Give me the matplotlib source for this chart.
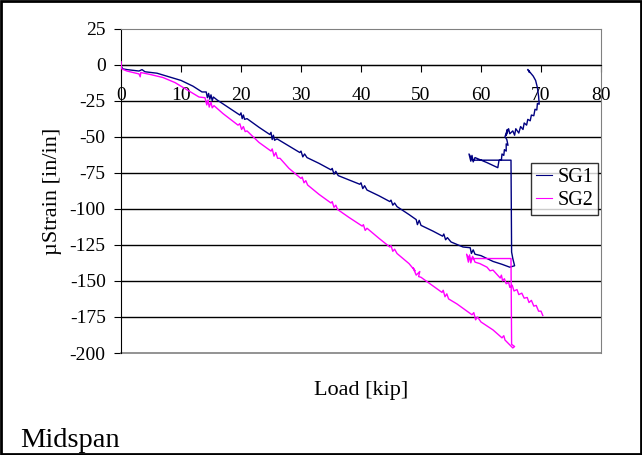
import numpy as np
import matplotlib
matplotlib.use("Agg")
from matplotlib import pyplot as plt
from matplotlib.patches import Rectangle

# SG1 gauge, load [kip] vs strain
sg1_load = [0, 0.3, 1, 3, 3.5, 4, 6, 8, 10, 12, 13.5,
            14.2, 14.4, 14.6, 14.8, 15, 15.2, 15.4, 16,
            18, 19.8, 20, 20.2, 20.4, 20.6, 21, 23, 24.8, 25, 25.2, 25.4, 25.6, 26,
            28, 29.8, 30, 30.3, 30.6, 31, 33, 35, 35.2, 35.5, 35.8, 36.2,
            38, 39.8, 40, 40.3, 40.6, 41, 43, 44.8, 45, 45.3, 45.6, 46,
            48, 49.2, 49.4, 49.7, 50, 52, 53.6, 53.8, 54.1, 54.4, 55,
            57, 58.2, 58.4, 58.7, 59, 60, 62, 63.5, 64.8, 65.6, 65.3, 65.1,
            65, 63, 58.6,
            58.0, 58.3, 58.5, 58.7, 59, 61, 62.8, 63.0,
            63.4, 63.5, 63.8, 63.9, 64.2, 64.2, 64.5, 64.3,
            64.0, 64.4, 64.2, 64.6, 64.8, 65.3, 65.6, 65.8, 66.3, 66.6, 67, 67.2,
            67.6, 67.8, 68.2, 68.4, 68.8, 69, 69.3, 69.4, 69.7, 69.6, 69.4, 69.1,
            68.7, 68.3, 67.9, 68.1, 67.8]
sg1_strain = [-1, -3, -3.5, -4.5, -3.5, -5, -6, -8.5, -11, -15, -19,
              -19, -23, -20, -24, -21, -25, -22.5, -24.5,
              -30, -35, -33.5, -37.5, -35, -38, -37.5, -43.5, -48.5, -47, -52, -49, -52.5, -51.5,
              -56.5, -61, -60, -64, -62, -64.5, -68.5, -73, -72, -76, -74, -77,
              -80, -83, -82, -86, -84, -87, -91, -95, -94, -97.5, -96, -98.5,
              -104, -107.5, -111, -108, -111.5, -115.5, -119, -117.5, -121.5, -120, -123,
              -126.5, -127, -131, -128.5, -131.5, -132.5, -136.5, -138.5, -140.5, -139.5, -134.5, -130,
              -66.3, -66.3, -66.3,
              -62, -67, -63, -67.5, -64.5, -68, -71.5, -66.5,
              -66, -62, -63, -59, -60, -55, -56, -52,
              -50, -45, -49, -44.5, -48, -46, -49, -44.5, -47.5, -43, -45, -40.5,
              -42, -38, -39, -35, -35.5, -31, -31.5, -27, -27.5, -22, -16, -11,
              -8, -6, -4, -5.5, -3.5]

# SG2 gauge
sg2_load = [0, 0.1, 1, 2, 3, 3.2, 3.3, 5, 7, 9, 11, 13,
            14, 14.3, 14.5, 14.7, 15, 15.2, 15.5,
            17, 19.5, 19.8, 20.1, 20.4, 20.7, 21, 23, 25, 25.2, 25.5, 25.8, 26.1, 26.5,
            28, 30, 30.2, 30.5, 30.8, 31.1, 33, 35, 35.2, 35.5, 35.8, 36.1,
            38, 40.2, 40.4, 40.7, 41, 43, 44.8, 45, 45.3, 45.6, 46,
            48, 49, 48.7, 49.2, 49.8, 49.6, 50, 52, 53.5, 53.7, 54, 54.3, 54.6,
            56, 58.5, 58.8, 59.1, 59.4, 60, 62, 63.5, 63.8, 64, 65.3, 65.6, 65.1,
            65, 60, 58,
            57.6, 57.9, 58.1, 58.3, 58.6, 59, 59.8, 61, 61.5, 62, 63.2, 63.4, 63.6,
            63.9, 64.2, 64.6, 64.8, 65.2, 65.5, 66, 66.3, 66.8, 67.2, 67.7, 68,
            68.4, 68.8, 69.2, 69.6, 70, 70.3]
sg2_strain = [2, -3, -4.5, -5.5, -6.5, -8.5, -5.5, -7, -9, -12.5, -17.5, -22.5,
              -23, -28, -24.5, -29.5, -26, -30, -28.5,
              -34, -42, -41, -45, -43, -46.5, -46, -54, -60, -58.5, -63.5, -61, -65, -65,
              -72, -79, -78, -82, -80.5, -83.5, -90, -96, -95, -99, -97.5, -100.5,
              -106, -112, -111, -115, -113.5, -120.5, -126.5, -125.5, -129.5, -128, -131,
              -138, -143, -141, -146, -143.5, -147, -147.5, -153.5, -158, -156.5, -161, -159, -162.5,
              -166, -173.5, -172, -177, -175, -178.5, -184, -189.5, -188, -191, -196.5, -195.5, -194,
              -134.5, -134.5, -134.5,
              -131.5, -137, -132, -137.5, -133, -137, -138, -140.5, -143, -142.5, -148, -146, -150,
              -148.5, -152, -151, -154.5, -153, -157, -156, -159.5, -158.5, -162, -161.5, -165,
              -163.5, -167.5, -167, -171, -171, -174]

x_ticks = [0, 10, 20, 30, 40, 50, 60, 70, 80]
y_ticks = [25, 0, -25, -50, -75, -100, -125, -150, -175, -200]

plt.rcParams['font.family'] = ['Liberation Serif', 'DejaVu Serif']
plt.rcParams['axes.unicode_minus'] = False

fig = plt.figure(figsize=(6.42, 4.55), dpi=100)
ax = fig.add_axes([121/642, 1 - 353/455, 480/642, 324.5/455])

# horizontal grid
for yv in y_ticks[1:-1]:
    ax.axhline(yv, color='black', lw=1, zorder=1)

ax.plot(sg1_load, sg1_strain, color='#000080', lw=1.0, label='SG1', zorder=3)
ax.plot(sg2_load, sg2_strain, color='#FF00FF', lw=1.0, label='SG2', zorder=3)

ax.set_xlim(0, 80)
ax.set_ylim(-200, 25)
ax.set_xticks(x_ticks)
ax.set_yticks(y_ticks)

ax.spines['bottom'].set_position(('data', 0))
ax.spines['bottom'].set_color('black')
ax.spines['left'].set_color('black')
ax.spines['top'].set_color('#808080')
ax.spines['right'].set_color('#808080')
ax.axhline(-200, color='#808080', lw=1.2, clip_on=False, zorder=2)

ax.tick_params(axis='x', direction='out', length=5, pad=11, labelsize=14)
ax.tick_params(axis='y', direction='out', length=5, pad=6, labelsize=14)

fig.text(53/642, 1 - 191/455, 'µStrain [in/in]', fontsize=16, rotation=90,
         ha='center', va='center')
fig.text(361/642, 1 - 390/455, 'Load [kip]', fontsize=16, ha='center', va='center')

leg = ax.legend(loc='upper left', bbox_to_anchor=(531/642, 1 - 163/455),
                bbox_transform=fig.transFigure, frameon=True, fancybox=False,
                edgecolor='black', fontsize=14.5, handlelength=0.8, handletextpad=0.25,
                borderpad=0.25, labelspacing=0.2, borderaxespad=0)
leg.get_frame().set_linewidth(1)
for h in leg.get_lines():
    h.set_linewidth(0.8)

fig.text(20/642, 1 - 447/455, 'Midspan', fontsize=20.5, ha='left', va='baseline')

fig.patches.append(Rectangle((0.002, 0.003), 0.996, 0.994, transform=fig.transFigure,
                             fill=False, edgecolor='black', lw=2))

fig.savefig('out.png', dpi=100)
